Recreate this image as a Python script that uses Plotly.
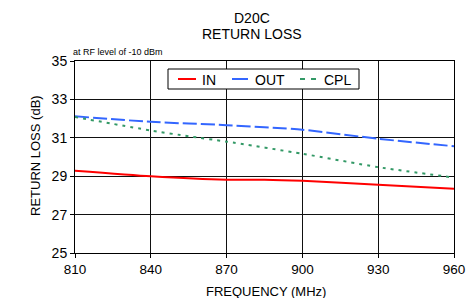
import plotly.graph_objects as go

freq_in = [810, 840, 870, 885, 900, 930, 960]
rl_in = [29.29, 29.0, 28.82, 28.82, 28.76, 28.55, 28.35]
freq_out = [810, 840, 870, 900, 930, 960]
rl_out = [32.12, 31.83, 31.66, 31.42, 30.95, 30.56]
freq_cpl = [810, 840, 855, 870, 900, 930, 960]
rl_cpl = [32.08, 31.38, 31.08, 30.8, 30.17, 29.47, 28.93]

x_ticks = [810, 840, 870, 900, 930, 960]
y_ticks = [25, 27, 29, 31, 33, 35]

series_names = ["IN", "OUT", "CPL"]
series_colors = ["#FF0000", "#3366FF", "#339966"]
series_dash = ["solid", "14px,4px", "3px,5px"]

FONT = "Liberation Sans, Arial, sans-serif"

fig = go.Figure()
for fx, fy, name, col, dash in zip([freq_in, freq_out, freq_cpl], [rl_in, rl_out, rl_cpl],
                                   series_names, series_colors, series_dash):
    fig.add_trace(go.Scatter(x=fx, y=fy, name=name, mode="lines", showlegend=False,
                             line=dict(color=col, width=2, dash=dash, shape="spline", smoothing=0.6)))

# Manual legend (paper coordinates relative to plot area)
W, H = 379.0, 192.0
def px(x):
    return (x - 75) / W
def py(y):
    return (253 - y) / H

shapes = [dict(type="rect", xref="paper", yref="paper", x0=px(168), x1=px(359), y0=py(89), y1=py(69),
               line=dict(color="#000000", width=1), fillcolor="white", layer="above")]
annotations = []
leg_line_x = [(178, 196), (232, 250), (300, 316)]
leg_text_x = [200, 253, 322]
leg_dash = ["solid", "16px,3px", "5px,6px"]
for (x0, x1), tx, name, col, dash in zip(leg_line_x, leg_text_x, series_names, series_colors, leg_dash):
    shapes.append(dict(type="line", xref="paper", yref="paper", x0=px(x0), x1=px(x1), y0=py(79), y1=py(79),
                       line=dict(color=col, width=2, dash=dash), layer="above"))
    annotations.append(dict(text=name, xref="paper", yref="paper", x=px(tx), y=py(79.5), xanchor="left",
                            yanchor="middle", showarrow=False, font=dict(size=14, family=FONT, color="#000")))

annotations.append(dict(text="at RF level of -10 dBm", xref="paper", yref="paper", x=px(71), y=py(52),
                        xanchor="left", yanchor="middle", showarrow=False,
                        font=dict(size=9, family=FONT, color="#000")))
annotations.append(dict(text="D20C", xref="paper", yref="paper", x=px(251.5), y=py(18),
                        xanchor="center", yanchor="middle", showarrow=False,
                        font=dict(size=14, family=FONT, color="#000")))
annotations.append(dict(text="RETURN LOSS", xref="paper", yref="paper", x=px(251.5), y=py(34),
                        xanchor="center", yanchor="middle", showarrow=False,
                        font=dict(size=14, family=FONT, color="#000")))
annotations.append(dict(text="FREQUENCY (MHz)", xref="paper", yref="paper", x=px(265.5), y=py(291),
                        xanchor="center", yanchor="middle", showarrow=False,
                        font=dict(size=13, family=FONT, color="#000")))
annotations.append(dict(text="RETURN LOSS (dB)", xref="paper", yref="paper", x=px(35), y=py(156),
                        xanchor="center", yanchor="middle", showarrow=False, textangle=-90,
                        font=dict(size=13, family=FONT, color="#000")))

fig.update_layout(
    width=469, height=298,
    margin=dict(l=75, r=15, t=61, b=45, autoexpand=False),
    paper_bgcolor="white", plot_bgcolor="white",
    font=dict(family=FONT, color="#000000", size=13),
    showlegend=False,
    shapes=shapes,
    annotations=annotations,
    xaxis=dict(range=[810, 960], tickvals=x_ticks, showgrid=True, gridcolor="#111111", gridwidth=1,
               showline=True, linecolor="#000000", linewidth=1, mirror=True,
               ticks="outside", ticklen=4, tickcolor="#000000", automargin=False,
               tickfont=dict(size=13.5), zeroline=False),
    yaxis=dict(range=[25, 35], tickvals=y_ticks, showgrid=True, gridcolor="#111111", gridwidth=1,
               showline=True, linecolor="#000000", linewidth=1, mirror=True,
               ticks="outside", ticklen=4, tickcolor="#000000", automargin=False,
               tickfont=dict(size=14), zeroline=False),
)

fig.write_html("out.html", config={"displayModeBar": False, "staticPlot": True},
               post_script="document.body.style.margin='0';document.body.style.overflow='hidden';")
